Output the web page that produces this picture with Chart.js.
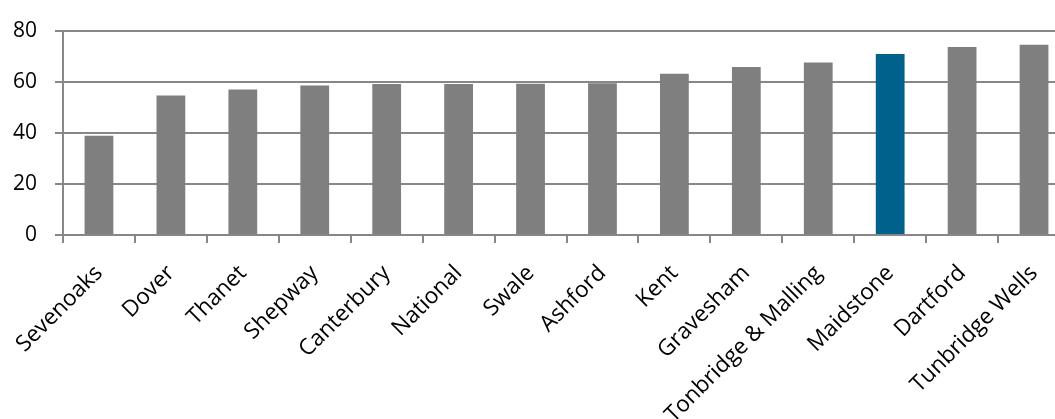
<!DOCTYPE html>
<html>
<head>
<meta charset="utf-8">
<script src="https://cdn.jsdelivr.net/npm/chart.js@4.4.0/dist/chart.umd.min.js"></script>
<style>
  html, body { margin: 0; padding: 0; background: #fff; overflow: hidden; }
  #wrap { width: 1072px; height: 419px; }
</style>
</head>
<body>
<div id="wrap"><canvas id="c" width="1072" height="419"></canvas></div>
<script>
const categories = ["Sevenoaks", "Dover", "Thanet", "Shepway", "Canterbury", "National", "Swale", "Ashford", "Kent", "Gravesham", "Tonbridge & Malling", "Maidstone", "Dartford", "Tunbridge Wells"];
const values = [38.8, 54.6, 56.9, 58.5, 59.1, 59.1, 59.2, 59.4, 63.1, 65.8, 67.5, 70.8, 73.6, 74.5];
const highlighted = "Maidstone";
const yTicks = [0, 20, 40, 60, 80];

const GREY = "#7f7f7f";
const BLUE = "#00628b";
const AXIS = "#878787";
const FONT = "'Open Sans', 'DejaVu Sans', sans-serif";

new Chart(document.getElementById("c"), {
  type: "bar",
  data: {
    labels: categories,
    datasets: [{
      data: values,
      backgroundColor: categories.map(c => c === highlighted ? BLUE : GREY),
      borderWidth: 0,
      categoryPercentage: 0.8,
      barPercentage: 0.5
    }]
  },
  options: {
    responsive: false,
    animation: false,
    devicePixelRatio: 1,
    layout: { padding: { top: 26, left: 0, right: 2, bottom: 0 } },
    plugins: { legend: { display: false }, tooltip: { enabled: false } },
    scales: {
      x: {
        grid: { offset: true, drawOnChartArea: false, drawTicks: true, tickLength: 8, color: AXIS, lineWidth: 2 },
        border: { display: true, color: AXIS, width: 2 },
        ticks: {
          autoSkip: false, minRotation: 45, maxRotation: 45, padding: 17,
          color: "#000", font: { family: FONT, size: 22.5 }
        },
        afterFit: s => { s.height = 184; }
      },
      y: {
        min: 0, max: 80,
        afterBuildTicks: s => { s.ticks = yTicks.map(v => ({ value: v })); },
        grid: { drawOnChartArea: true, drawTicks: true, tickLength: 8, color: AXIS, lineWidth: 2 },
        border: { display: true, color: AXIS, width: 2 },
        ticks: { padding: 18, color: "#000", font: { family: FONT, size: 21 } },
        afterFit: s => { s.width = 63; }
      }
    }
  }
});
</script>
</body>
</html>
